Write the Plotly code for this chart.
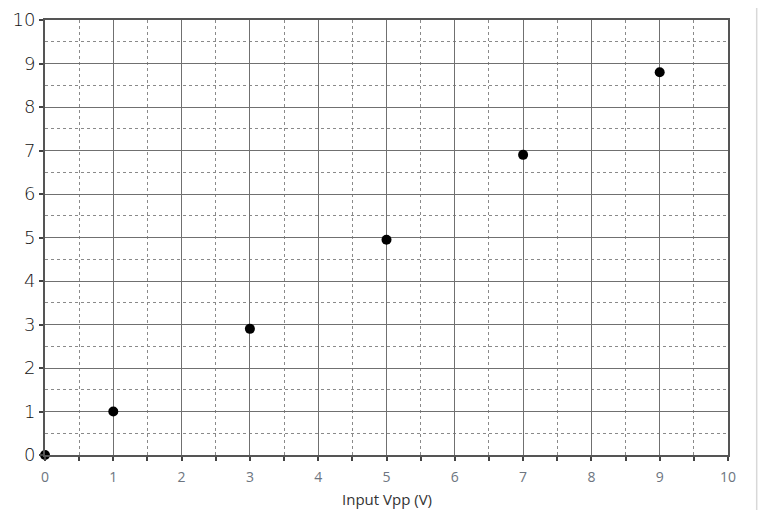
import plotly.graph_objects as go

x_vals = [0, 1, 3, 5, 7, 9]
y_vals = [0, 1, 2.9, 4.95, 6.9, 8.8]
x_ticks = [0, 1, 2, 3, 4, 5, 6, 7, 8, 9, 10]
y_ticks = [0, 1, 2, 3, 4, 5, 6, 7, 8, 9, 10]
x_title = "Input Vpp (V)"

fig = go.Figure()
fig.add_trace(go.Scatter(
    x=x_vals, y=y_vals, mode="markers",
    marker=dict(color="black", size=10, symbol="circle"),
    showlegend=False, cliponaxis=False,
))

grid_col = "#707070"
fig.update_xaxes(
    range=[0, 10], tickvals=x_ticks, ticktext=[str(v) for v in x_ticks],
    automargin=False,
    showgrid=True, gridcolor=grid_col, gridwidth=1.3,
    showline=True, linecolor="#555555", linewidth=2, mirror=True,
    ticks="outside", ticklen=4, tickcolor="#444444", tickwidth=1.5,
    ticklabelstandoff=4,
    tickfont=dict(family="Open Sans, Calibri, sans-serif", size=14, color="#6d7580"),
    minor=dict(dtick=0.5, showgrid=True, gridcolor="#8a8a8a", griddash="dot",
               gridwidth=1.2, ticks="outside", ticklen=4, tickcolor="#444444"),
    zeroline=False,
)
fig.update_yaxes(
    range=[0, 10], tickvals=y_ticks, ticktext=[str(v) for v in y_ticks],
    automargin=False,
    showgrid=True, gridcolor=grid_col, gridwidth=1.3,
    showline=True, linecolor="#555555", linewidth=2, mirror=True,
    ticks="outside", ticklen=4, tickcolor="#444444", tickwidth=1.5,
    ticklabelstandoff=0,
    tickfont=dict(family="DejaVu Sans, sans-serif", size=18, color="#111111", weight=300),
    minor=dict(dtick=0.5, showgrid=True, gridcolor="#8a8a8a", griddash="dot", gridwidth=1.2),
    zeroline=False,
)
fig.add_annotation(text=x_title, xref="paper", yref="paper", x=0.5, y=0,
                   xanchor="center", yanchor="middle", yshift=-44, showarrow=False,
                   font=dict(family="Open Sans, Calibri, sans-serif", size=15, color="#333333"))
fig.add_shape(type="line", xref="paper", yref="paper", x0=1.042, x1=1.042, y0=-0.2, y1=1.05,
              line=dict(color="#d8d8d8", width=1.5))
fig.update_layout(
    width=752, height=502,
    margin=dict(l=37, r=32, t=12, b=55),
    plot_bgcolor="white", paper_bgcolor="white",
)
fig.write_html("out.html")
